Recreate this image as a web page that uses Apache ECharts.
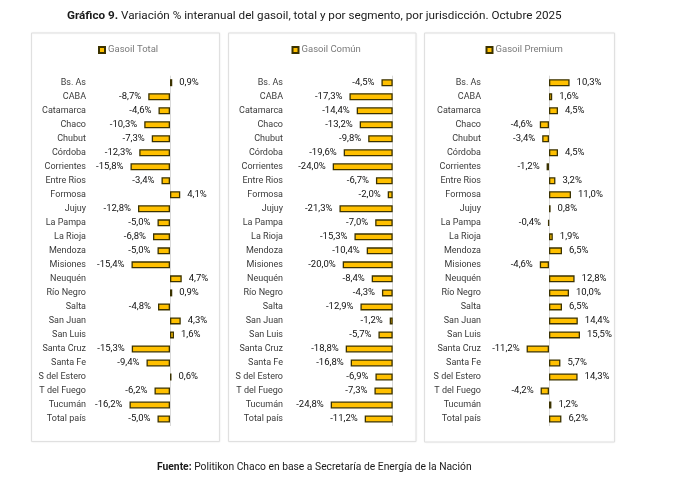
<!DOCTYPE html>
<html>
<head>
<meta charset="utf-8">
<script src="https://cdn.jsdelivr.net/npm/echarts@6/dist/echarts.min.js"></script>
<style>
html,body{margin:0;padding:0;background:#fff;}
#c{width:677px;height:504px;}
</style>
</head>
<body>
<div id="c"></div>
<script>
const categories = ["Bs. As","CABA","Catamarca","Chaco","Chubut","Córdoba","Corrientes","Entre Rios","Formosa","Jujuy","La Pampa","La Rioja","Mendoza","Misiones","Neuquén","Río Negro","Salta","San Juan","San Luis","Santa Cruz","Santa Fe","S del Estero","T del Fuego","Tucumán","Total país"];
const gasoilTotal = [0.9,-8.7,-4.6,-10.3,-7.3,-12.3,-15.8,-3.4,4.1,-12.8,-5.0,-6.8,-5.0,-15.4,4.7,0.9,-4.8,4.3,1.6,-15.3,-9.4,0.6,-6.2,-16.2,-5.0];
const gasoilComun = [-4.5,-17.3,-14.4,-13.2,-9.8,-19.6,-24.0,-6.7,-2.0,-21.3,-7.0,-15.3,-10.4,-20.0,-8.4,-4.3,-12.9,-1.2,-5.7,-18.8,-16.8,-6.9,-7.3,-24.8,-11.2];
const gasoilPremium = [10.3,1.6,4.5,-4.6,-3.4,4.5,-1.2,3.2,11.0,0.8,-0.4,1.9,6.5,-4.6,12.8,10.0,6.5,14.4,15.5,-11.2,5.7,14.3,-4.2,1.2,6.2];
const seriesNames = ["Gasoil Total","Gasoil Común","Gasoil Premium"];

const FONT = 'Roboto';
const chart = echarts.init(document.getElementById('c'), null, {renderer:'canvas'});

const panels = [
  {name: seriesNames[0], data: gasoilTotal, min:-20, max:10, left:120, width:75, margin:34, legendLeft:98, box:[31.5,33,188,408.5]},
  {name: seriesNames[1], data: gasoilComun, min:-30, max:5, left:317.7, width:87.5, margin:34.7, legendLeft:291.5, box:[228.5,33,187.5,408.5]},
  {name: seriesNames[2], data: gasoilPremium, min:-15, max:20, left:519, width:70, margin:38, legendLeft:485.5, box:[424.5,33,190,409]}
];

function fmt(v){ return v.toFixed(1).replace('.', ',') + '%'; }

const grids=[], xAxes=[], yAxes=[], series=[], legends=[], graphics=[];
panels.forEach((p,i)=>{
  graphics.push({type:'rect', shape:{x:p.box[0], y:p.box[1], width:p.box[2], height:p.box[3]},
    style:{fill:'#fff', stroke:'#e0e0e0', lineWidth:1, shadowBlur:2, shadowColor:'rgba(0,0,0,0.06)'}, z:-10});
  grids.push({left:p.left, width:p.width, top:75.7, height:350.3, containLabel:false, outerBoundsMode:'none'});
  xAxes.push({type:'value', gridIndex:i, min:p.min, max:p.max,
    axisLine:{show:false}, axisTick:{show:false}, axisLabel:{show:false}, splitLine:{show:false}});
  yAxes.push({type:'category', gridIndex:i, data:categories, inverse:true, position:'left',
    axisLine:{show:false, onZero:false},
    axisTick:{show:false},
    axisLabel:{margin:p.margin, color:'#3a3a3a', fontFamily:FONT, fontSize:9, interval:0}});
  series.push({type:'bar', name:p.name, xAxisIndex:i, yAxisIndex:i, barWidth:7,
    itemStyle:{color:'#FFC000', borderColor:'#3b3200', borderWidth:1.3},
    label:{show:true, color:'#111', fontFamily:FONT, fontSize:9.5, distance:7,
      formatter:(d)=>fmt(d.value)},
    markLine:{silent:true, symbol:['none','none'], label:{show:false},
      lineStyle:{color:'#d9d9d9', width:1, type:'solid'}, emphasis:{disabled:true},
      data:[{xAxis:0}], z:1},
    data:p.data.map(v=>({value:v, label:{position: v<0?'left':'right'}}))});
  legends.push({data:[p.name], left:p.legendLeft, top:45, itemWidth:6, itemHeight:6, icon:'rect',
    textStyle:{color:'#7a7a7a', fontFamily:FONT, fontSize:9.5, padding:[0,0,0,-2]}, selectedMode:false, padding:0});
});

chart.setOption({
  animation:false,
  backgroundColor:'#fff',
  title:[
    {text:'{b|Gráfico 9.}{n| Variación % interanual del gasoil, total y por segmento, por jurisdicción. Octubre 2025}',
      left:67, top:10, padding:0,
      textStyle:{rich:{b:{fontFamily:FONT, fontWeight:'bold', fontSize:11.7, color:'#1a1a1a'},
                        n:{fontFamily:FONT, fontWeight:'normal', fontSize:11.7, color:'#1a1a1a'}}}},
    {text:'{b|Fuente:}{n| Politikon Chaco en base a Secretaría de Energía de la Nación}',
      left:157, top:462, padding:0,
      textStyle:{rich:{b:{fontFamily:FONT, fontWeight:'bold', fontSize:10.3, color:'#1a1a1a'},
                        n:{fontFamily:FONT, fontWeight:'normal', fontSize:10.3, color:'#1a1a1a'}}}}
  ],
  graphic:graphics,
  legend:legends,
  grid:grids,
  xAxis:xAxes,
  yAxis:yAxes,
  series:series
});
</script>
</body>
</html>
